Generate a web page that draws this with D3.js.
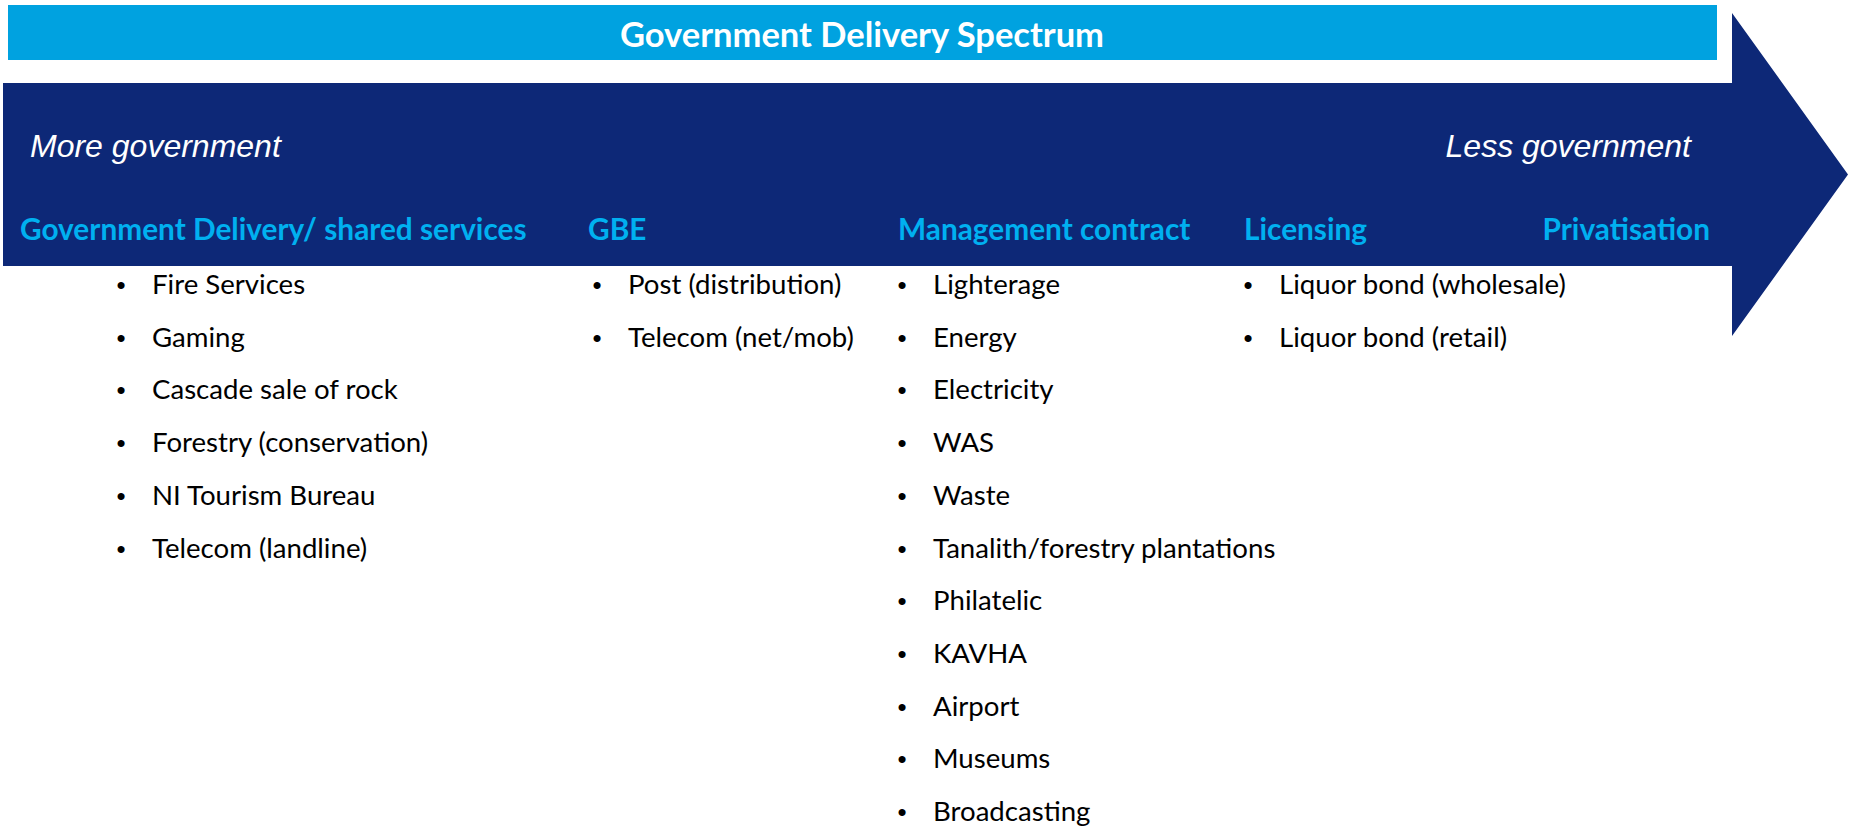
<!DOCTYPE html>
<html>
<head>
<meta charset="utf-8">
<script src="https://cdn.jsdelivr.net/npm/d3@7"></script>
<style>
html,body{margin:0;padding:0;background:#fff;}
svg{display:block;}
</style>
</head>
<body>
<svg id="chart" width="1849" height="828"></svg>
<script>
// ---- data ----
const title = "Government Delivery Spectrum";
const endLabels = ["More government", "Less government"];
const categories = ["Government Delivery/ shared services", "GBE", "Management contract", "Licensing", "Privatisation"];
const itemsGovDelivery = ["Fire Services", "Gaming", "Cascade sale of rock", "Forestry (conservation)", "NI Tourism Bureau", "Telecom (landline)"];
const itemsGBE = ["Post (distribution)", "Telecom (net/mob)"];
const itemsManagement = ["Lighterage", "Energy", "Electricity", "WAS", "Waste", "Tanalith/forestry plantations", "Philatelic", "KAVHA", "Airport", "Museums", "Broadcasting"];
const itemsLicensing = ["Liquor bond (wholesale)", "Liquor bond (retail)"];
const itemsPrivatisation = [];
const columnItems = [itemsGovDelivery, itemsGBE, itemsManagement, itemsLicensing, itemsPrivatisation];

// ---- layout ----
const W = 1849, H = 828;
const svg = d3.select("#chart");
const navy = "#0d2877", sky = "#00a2e0", headBlue = "#00b0f0";
const calib = "Lato, 'Open Sans', sans-serif";
const arial = "'Liberation Sans', Arial, sans-serif";

// top light-blue banner
svg.append("rect").attr("x", 8).attr("y", 5).attr("width", 1709).attr("height", 55).attr("fill", sky);
svg.append("text").attr("x", 862).attr("y", 46.5).attr("text-anchor", "middle")
  .attr("font-family", calib).attr("font-weight", 700).attr("font-size", 34.5).attr("fill", "#fff")
  .text(title);

// big arrow
const arrow = d3.path();
arrow.moveTo(3, 83);
arrow.lineTo(1732, 83);
arrow.lineTo(1732, 13);
arrow.lineTo(1848, 174.5);
arrow.lineTo(1732, 336);
arrow.lineTo(1732, 266);
arrow.lineTo(3, 266);
arrow.closePath();
svg.append("path").attr("d", arrow.toString()).attr("fill", navy);

// end labels
svg.append("text").attr("x", 30).attr("y", 157).attr("font-family", arial).attr("font-style", "italic")
  .attr("font-size", 32).attr("fill", "#fff").text(endLabels[0]);
svg.append("text").attr("x", 1691).attr("y", 157).attr("text-anchor", "end").attr("font-family", arial).attr("font-style", "italic")
  .attr("font-size", 32).attr("fill", "#fff").text(endLabels[1]);

// column positions
const headX = d3.scaleOrdinal().domain(categories).range([20, 588, 898, 1244, 1710]);
const headAnchor = d3.scaleOrdinal().domain(categories).range(["start", "start", "start", "start", "end"]);
const bulletX = d3.scaleOrdinal().domain(categories).range([121, 597, 902, 1248, 1546]);
const textOffset = 31;
const rowY = d3.scaleLinear().domain([0, 10]).range([294, 821]);

svg.append("g").selectAll("text").data(categories).join("text")
  .attr("x", d => headX(d)).attr("y", 240).attr("text-anchor", d => headAnchor(d))
  .attr("font-family", calib).attr("font-weight", 700).attr("font-size", 29.8).attr("fill", headBlue)
  .text(d => d);

const cols = svg.append("g").selectAll("g").data(categories).join("g");
cols.each(function(cat, ci) {
  const g = d3.select(this);
  const items = columnItems[ci];
  g.selectAll("text.bullet").data(items).join("text").attr("class", "bullet")
    .attr("x", bulletX(cat)).attr("y", (d, i) => rowY(i)).attr("text-anchor", "middle")
    .attr("font-family", arial).attr("font-size", 26).attr("fill", "#000").text("•");
  g.selectAll("text.item").data(items).join("text").attr("class", "item")
    .attr("x", bulletX(cat) + textOffset).attr("y", (d, i) => rowY(i))
    .attr("font-family", calib).attr("font-size", 27.6).attr("fill", "#000").text(d => d);
});
</script>
</body>
</html>
